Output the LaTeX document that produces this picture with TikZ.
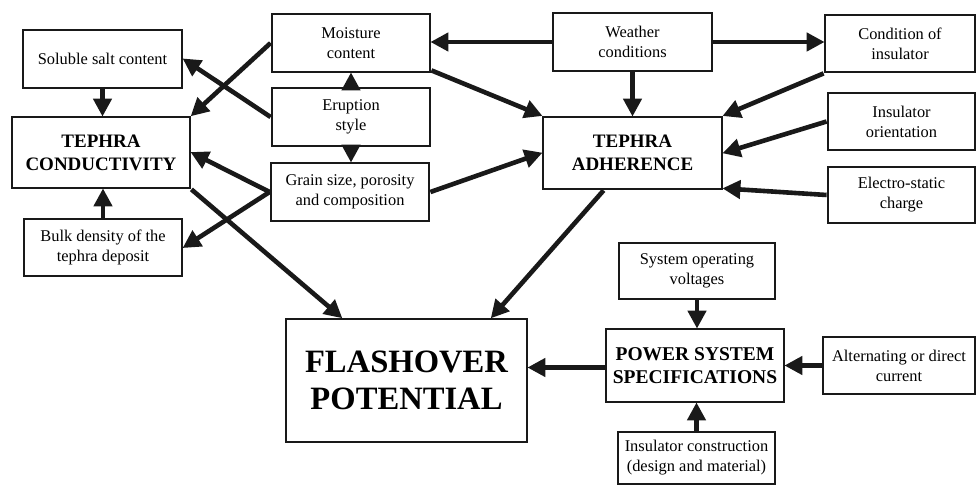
\documentclass[tikz,border=0pt]{standalone}
\usepackage{fontspec}
\setmainfont{Liberation Serif}
\usetikzlibrary{arrows.meta,calc}
\tikzset{
  box/.style={draw=black!90, line width=2.8pt, fill=white, align=center, inner sep=0pt,
    font=\fontsize{16.4}{20}\selectfont},
  bigbox/.style={box, font=\fontsize{19}{23}\selectfont\bfseries},
  hugebox/.style={box, font=\fontsize{32.6}{37}\selectfont\bfseries},
  arr/.style={line width=4.6pt, draw=black!90, -{Triangle[length=18pt,width=18pt]}, shorten >=-1pt},
}
\begin{document}
\begin{tikzpicture}[x=1pt,y=-1pt]
\useasboundingbox (0,0) rectangle (976,486);
% left column
\node[box, minimum width=159, minimum height=58] (salt) at (102.5,59) {Soluble salt content};
\node[bigbox, minimum width=178, minimum height=71] (cond) at (101,152.5) {TEPHRA\\CONDUCTIVITY};
\node[box, minimum width=158, minimum height=57] (bulk) at (103,247.5) {Bulk density of the\\tephra deposit};
% middle column
\node[box, minimum width=158, minimum height=58] (moist) at (351,43) {Moisture\\content};
\node[box, minimum width=158, minimum height=58] (erupt) at (351,117) {Eruption\\style};
\node[box, minimum width=158, minimum height=58] (grain) at (350,192) {Grain size, porosity\\and composition};
% adherence group
\node[box, minimum width=159, minimum height=58] (weather) at (632.5,42) {Weather\\conditions};
\node[bigbox, minimum width=179, minimum height=72] (adh) at (632.5,153) {TEPHRA\\ADHERENCE};
\node[box, minimum width=150, minimum height=57] (condins) at (900,43.5) {Condition of\\insulator};
\node[box, minimum width=147, minimum height=57] (orient) at (901.5,121.5) {Insulator\\orientation};
\node[box, minimum width=147, minimum height=56] (electro) at (901.5,195) {Electro-static\\charge};
% power group
\node[box, minimum width=156, minimum height=56] (sysv) at (697,271) {System operating\\voltages};
\node[bigbox, minimum width=178, minimum height=73, font=\fontsize{19.5}{23}\selectfont\bfseries] (power) at (695,365.5) {POWER SYSTEM\\SPECIFICATIONS};
\node[box, minimum width=152, minimum height=57] (altdc) at (899,365.5) {Alternating or direct\\current};
\node[box, minimum width=157, minimum height=52] (insc) at (696.5,458) {Insulator construction\\(design and material)};
% flashover
\node[hugebox, minimum width=241, minimum height=123] (flash) at (406.5,380.5) {FLASHOVER\\POTENTIAL};

% arrows: conductivity
\draw[arr] (salt.south) -- (salt.south |- cond.north);
\draw[arr] (bulk.north) -- (bulk.north |- cond.south);
\draw[arr] (moist.west) -- (cond.north east);
\draw[arr] (erupt.west) -- (salt.east);
\draw[arr] (grain.west) -- (cond.east);
\draw[arr] (grain.west) -- (bulk.east);
\draw[arr] (cond.south east) -- ([xshift=57]flash.north west);
% eruption
\draw[arr] (erupt.north) -- (erupt.north |- moist.south);
\draw[arr] (erupt.south) -- (erupt.south |- grain.north);
% adherence
\draw[arr] (weather.west) -- (weather.west -| moist.east);
\draw[arr] ([yshift=3]moist.south east) -- (adh.north west);
\draw[arr] (grain.east) -- (adh.west);
\draw[arr] (weather.south) -- (weather.south |- adh.north);
\draw[arr] (weather.east) -- (weather.east -| condins.west);
\draw[arr] (condins.south west) -- (adh.north east);
\draw[arr] (orient.west) -- (adh.east);
\draw[arr] (electro.west) -- ([yshift=2]adh.south east);
\draw[arr] ([xshift=62]adh.south west) -- ([xshift=-37]flash.north east);
% power
\draw[arr] (sysv.south) -- (sysv.south |- power.north);
\draw[arr] (altdc.west) -- (power.east);
\draw[arr] (insc.north) -- (insc.north |- power.south);
\draw[arr] ([yshift=-2]power.west) -- ([yshift=-2]power.west -| flash.east);
\end{tikzpicture}
\end{document}
